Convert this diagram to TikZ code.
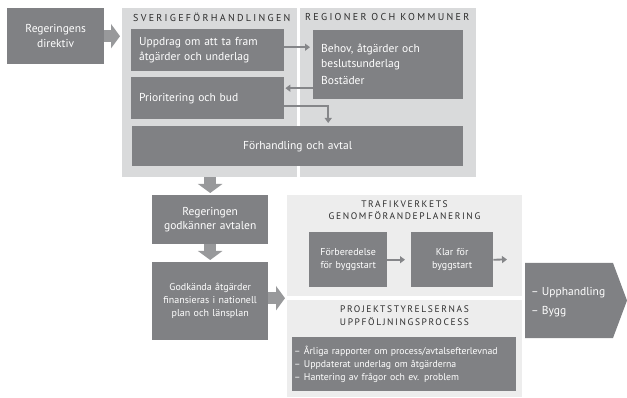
\documentclass[tikz,border=0pt]{standalone}
\usepackage{fontspec}
\setmainfont{PT Sans}
\newfontfamily\capsfont[LetterSpace=17]{PT Sans}
\newfontfamily\capsfontw[LetterSpace=23]{PT Sans}
\usetikzlibrary{arrows.meta,calc}
\definecolor{boxgray}{RGB}{128,129,132}
\definecolor{panelgray}{RGB}{217,218,219}
\definecolor{lowpanel}{RGB}{237,237,237}
\definecolor{bigarrow}{RGB}{152,153,155}
\definecolor{thinarrow}{RGB}{133,134,137}
\definecolor{headtext}{RGB}{45,45,45}
\begin{document}
\begin{tikzpicture}[x=1pt,y=-1pt,
  dbox/.style={fill=boxgray,text=white,anchor=north west,inner xsep=8pt,inner ysep=0pt,font=\fontsize{11.5}{14.5}\selectfont},
  sbox/.style={dbox,font=\fontsize{10}{13}\selectfont,inner xsep=2pt},
  panel/.style={anchor=north west,inner sep=0pt},
  ptitle/.style={text=headtext,font=\capsfont\fontsize{9.5}{12}\selectfont,inner sep=0pt},
  utitle/.style={text=headtext,font=\capsfontw\fontsize{10}{12}\selectfont,inner sep=0pt,anchor=west},
  blk/.style={draw=bigarrow,line width=12pt,-{Triangle[width=24pt,length=9pt]}},
  tarrow/.style={draw=thinarrow,line width=1.8pt,-{Triangle[width=7pt,length=5pt]}}]
\useasboundingbox[fill=white] (0,0) rectangle (627,398);
% panels
\node[panel,fill=panelgray,minimum width=175pt,minimum height=169pt] (sve) at (122,8) {};
\node[panel,fill=panelgray,minimum width=176pt,minimum height=169pt] (reg) at (300,8) {};
\node[panel,fill=lowpanel,minimum width=235pt,minimum height=101pt] (traf) at (287,195) {};
\node[panel,fill=lowpanel,minimum width=235pt,minimum height=97pt] (proj) at (287,300) {};
% titles
\node[utitle] (svet) at (133,17.5) {SVERIGEFÖRHANDLINGEN};
\node[utitle] (regt) at (305,17.5) {REGIONER OCH KOMMUNER};
\node[ptitle,align=center] (traft) at (404.5,210.5) {TRAFIKVERKETS\\GENOMFÖRANDEPLANERING};
\node[ptitle,align=center,font=\capsfont\fontsize{9.5}{13}\selectfont] (projt) at (404.5,316) {PROJEKTSTYRELSERNAS\\UPPFÖLJNINGSPROCESS};
% boxes
\node[dbox,minimum width=97pt,minimum height=56pt,text width=81pt,align=center] (dir) at (7,8) {Regeringens\\direktiv};
\node[dbox,minimum width=153pt,minimum height=42pt,text width=137pt,align=left] (upp) at (131,29) {Uppdrag om att ta fram\\åtgärder och underlag};
\node[dbox,minimum width=150pt,minimum height=69pt,text width=134pt,align=left] (beh) at (313,30) {Behov, åtgärder och\\beslutsunderlag\\[3pt]Bostäder};
\node[dbox,minimum width=153pt,minimum height=42pt,text width=137pt,align=left] (prio) at (131,77) {Prioritering och bud};
\node[dbox,minimum width=331pt,minimum height=40pt,text width=315pt,align=center] (forh) at (132,126) {Förhandling och avtal};
\node[dbox,minimum width=116pt,minimum height=49pt,text width=100pt,align=center] (godk1) at (152,195) {Regeringen\\godkänner avtalen};
\node[sbox,minimum width=116pt,minimum height=78pt,text width=112pt,align=center] (godk2) at (152,262) {Godkända åtgärder\\finansieras i nationell\\plan och länsplan};
\node[sbox,minimum width=78pt,minimum height=55pt,text width=74pt,align=center] (forb) at (309,232) {Förberedelse\\för byggstart};
\node[sbox,minimum width=82pt,minimum height=55pt,text width=78pt,align=center] (klar) at (411,232) {Klar för\\byggstart};
\node[dbox,font=\fontsize{9.8}{12.8}\selectfont,inner xsep=2pt,minimum width=224pt,minimum height=54pt,text width=220pt,align=left] (lista) at (292,337) {– Årliga rapporter om process/avtalsefterlevnad\\– Uppdaterat underlag om åtgärderna\\– Hantering av frågor och ev. problem};
% pentagon
\fill[boxgray] (525,263) -- (613,263) -- (627,300.5) -- (613,338) -- (525,338) -- cycle;
\node[text=white,anchor=west,align=left,inner sep=0pt,font=\fontsize{11.5}{14.5}\selectfont] (upph) at (531,302) {– Upphandling\\[4pt]– Bygg};
% block arrows
\draw[blk,shorten >=2pt] (dir.east) -- (dir.east -| sve.west);
\draw[blk,shorten >=2pt] (godk1.north |- sve.south) -- (godk1.north);
\draw[blk,shorten >=2pt] (godk1.south) -- (godk2.north);
\draw[blk,shorten >=2pt] ([yshift=3pt]godk2.east) -- ([yshift=3pt]godk2.east -| traf.west);
% thin arrows
\draw[tarrow,shorten >=3pt] ([yshift=3pt]upp.east) -- ([yshift=3pt]upp.east -| beh.west);
\draw[tarrow,shorten >=1pt] ([yshift=10pt]prio.east -| beh.west) -- ([yshift=10pt]prio.east);
\draw[tarrow,shorten >=3pt] ([yshift=-8pt]prio.east) -| ([xshift=30.5pt]forh.north);
\draw[tarrow,shorten >=6pt] (forb.east) -- (klar.west);
\coordinate (klarend) at (507,259.5);
\draw[tarrow] (klar.east) -- (klarend);
\end{tikzpicture}
\end{document}
